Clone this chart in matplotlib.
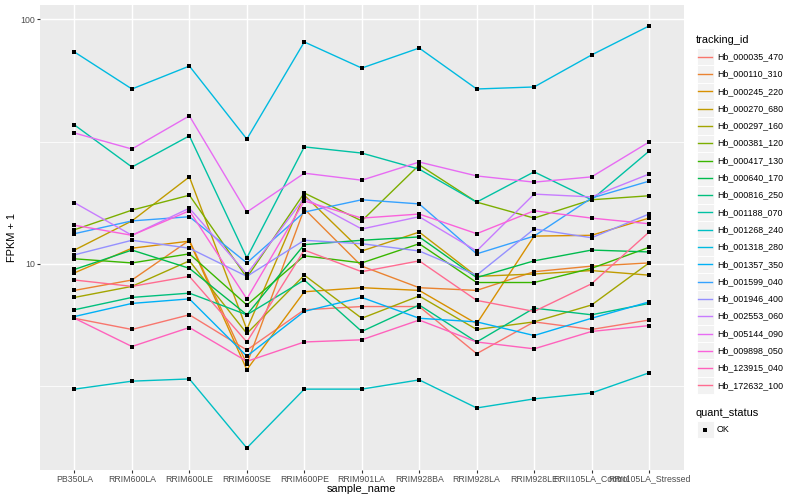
import matplotlib
matplotlib.use('Agg')
import matplotlib.pyplot as plt
from matplotlib.lines import Line2D
from matplotlib.patches import Rectangle
from matplotlib.ticker import FixedLocator, NullFormatter
import numpy as np

plt.rcParams['font.family'] = ['Liberation Sans', 'DejaVu Sans']

samples = ['PB350LA', 'RRIM600LA', 'RRIM600LE', 'RRIM600SE', 'RRIM600PE',
           'RRIM901LA', 'RRIM928BA', 'RRIM928LA', 'RRIM928LE',
           'RRII105LA_Control', 'RRII105LA_Stressed']

tracking_ids = ['Hb_000035_470', 'Hb_000110_310', 'Hb_000245_220', 'Hb_000270_680',
                'Hb_000297_160', 'Hb_000381_120', 'Hb_000417_130', 'Hb_000640_170',
                'Hb_000816_250', 'Hb_001188_070', 'Hb_001268_240', 'Hb_001318_280',
                'Hb_001357_350', 'Hb_001599_040', 'Hb_001946_400', 'Hb_002553_060',
                'Hb_005144_090', 'Hb_009898_050', 'Hb_123915_040', 'Hb_172632_100']

colors = ['#F8766D', '#EA8331', '#D89000', '#C09B00', '#A3A500', '#7CAE00',
          '#39B600', '#00BB4E', '#00BF7D', '#00C1A3', '#00BFC4', '#00BAE0',
          '#00B0F6', '#35A2FF', '#9590FF', '#C77CFF', '#E76BF3', '#FA62DB',
          '#FF62BC', '#FF6C91']

hb_000035_470 = [6.0, 5.4, 6.2, 4.45, 6.5, 6.7, 6.7, 4.3, 5.8, 5.4, 5.9]
hb_000110_310 = [7.8, 8.6, 12.5, 3.9, 16.8, 9.8, 8.0, 7.8, 9.3, 9.8, 10.1]
hb_000245_220 = [9.2, 11.6, 12.4, 3.7, 7.7, 8.0, 7.8, 5.7, 13.0, 13.1, 15.4]
hb_000270_680 = [11.4, 15.0, 22.7, 5.4, 19.1, 11.3, 13.5, 8.9, 9.1, 9.4, 9.0]
hb_000297_160 = [7.3, 8.1, 10.3, 5.2, 9.0, 6.0, 7.4, 5.4, 5.8, 6.8, 10.1]
hb_000381_120 = [13.8, 16.6, 19.1, 8.8, 19.5, 15.0, 25.4, 17.9, 15.4, 18.3, 19.0]
hb_000417_130 = [10.5, 10.1, 11.0, 6.8, 10.8, 10.1, 12.1, 8.4, 8.4, 9.6, 11.7]
hb_000640_170 = [9.5, 11.4, 9.6, 6.2, 12.0, 12.5, 12.9, 8.8, 10.3, 11.4, 11.2]
hb_000816_250 = [6.5, 7.3, 7.6, 6.2, 8.6, 5.3, 6.8, 4.8, 6.6, 6.2, 6.9]
hb_001188_070 = [37.0, 24.9, 33.4, 10.6, 30.1, 28.4, 24.4, 17.9, 23.8, 18.3, 28.9]
hb_001268_240 = [3.08, 3.32, 3.39, 1.77, 3.08, 3.08, 3.36, 2.58, 2.81, 2.97, 3.59]
hb_001318_280 = [73.5, 51.9, 64.4, 32.4, 80.8, 63.2, 76.3, 51.9, 52.9, 71.5, 93.9]
hb_001357_350 = [6.1, 6.9, 7.2, 4.2, 6.4, 7.3, 6.0, 5.8, 5.1, 6.0, 7.0]
hb_001599_040 = [13.3, 15.0, 15.6, 10.1, 16.3, 18.3, 17.6, 11.0, 13.0, 18.6, 21.8]
hb_001946_400 = [10.9, 12.5, 11.6, 8.9, 12.5, 12.1, 11.3, 9.0, 13.9, 12.8, 16.0]
hb_002553_060 = [17.8, 13.1, 16.9, 9.1, 18.6, 13.9, 15.6, 11.3, 19.3, 18.8, 23.3]
hb_005144_090 = [34.3, 29.5, 40.3, 16.3, 23.5, 22.0, 26.1, 22.9, 21.6, 22.7, 31.5]
hb_009898_050 = [14.4, 13.1, 16.5, 7.2, 18.1, 15.4, 16.0, 13.3, 16.5, 15.4, 14.6]
hb_123915_040 = [6.0, 4.6, 5.5, 4.0, 4.8, 4.9, 5.9, 4.8, 4.5, 5.3, 5.6]
hb_172632_100 = [8.6, 8.1, 8.9, 4.8, 11.4, 9.3, 10.3, 7.1, 6.4, 8.3, 13.5]

series = [hb_000035_470, hb_000110_310, hb_000245_220, hb_000270_680, hb_000297_160,
          hb_000381_120, hb_000417_130, hb_000640_170, hb_000816_250, hb_001188_070,
          hb_001268_240, hb_001318_280, hb_001357_350, hb_001599_040, hb_001946_400,
          hb_002553_060, hb_005144_090, hb_009898_050, hb_123915_040, hb_172632_100]

y_ticks = [10, 100]
y_tick_labels = ['10', '100']

W, H = 800, 500
fig = plt.figure(figsize=(W / 100, H / 100), dpi=100)
fig.patch.set_facecolor('white')

L, R, T, B = 40, 683.5, 5, 470
ax = fig.add_axes([L / W, 1 - B / H, (R - L) / W, (B - T) / H])
ax.set_facecolor('#EBEBEB')
ax.set_yscale('log')
ax.set_ylim(1.439, 114.4)
ax.set_xlim(-0.6, len(samples) - 1 + 0.6)
for s in ax.spines.values():
    s.set_visible(False)

ax.yaxis.set_major_locator(FixedLocator(y_ticks))
ax.set_yticklabels(y_tick_labels)
ax.yaxis.set_minor_locator(FixedLocator([10 ** 0.5, 10 ** 1.5]))
ax.yaxis.set_minor_formatter(NullFormatter())
ax.tick_params(which='minor', length=0)

x = np.arange(len(samples))
ax.set_xticks(x)
ax.set_xticklabels(samples)
ax.tick_params(which='major', length=2.0, width=0.8, color='#333333',
               labelsize=6.3, labelcolor='#4D4D4D', pad=1.3)

ax.grid(True, which='major', color='white', lw=1.05)
ax.grid(True, which='minor', color='white', lw=0.55)
ax.set_axisbelow(True)

for i, (vals, c) in enumerate(zip(series, colors)):
    ax.plot(x, vals, color=c, lw=1.0, zorder=2 + i * 0.01, solid_capstyle='butt')
for vals in series:
    ax.plot(x, vals, ls='none', marker='s', ms=2.8, mew=0, color='black', zorder=5)

def P(px, py):
    return (px / W, 1 - py / H)

fig.text(*P(12, (T + B) / 2), 'FPKM + 1', rotation=90, ha='center', va='center',
         fontsize=7.9, color='black')
fig.text(*P((L + R) / 2, 489), 'sample_name', ha='center', va='center',
         fontsize=7.9, color='black')

# legend: tracking_id
fig.text(*P(696, 40), 'tracking_id', ha='left', va='center', fontsize=7.9)
key_x0, key_w, key_h = 696.5, 17.0, 17.3
y0 = 56.7
for i, (lab, c) in enumerate(zip(tracking_ids, colors)):
    yc = y0 + i * key_h
    rx, ry = P(key_x0, yc + key_h / 2)
    fig.patches.append(Rectangle((rx, ry), key_w / W, key_h / H, transform=fig.transFigure,
                                 facecolor='#F2F2F2', edgecolor='white', lw=0.7))
    lx0, ly = P(key_x0 + 1.7, yc)
    lx1, _ = P(key_x0 + key_w - 1.7, yc)
    fig.lines.append(Line2D([lx0, lx1], [ly, ly], transform=fig.transFigure,
                            color=c, lw=1.0))
    fig.text(*P(717, yc), lab, ha='left', va='center', fontsize=6.4)

# legend: quant_status
fig.text(*P(696, 412.5), 'quant_status', ha='left', va='center', fontsize=7.9)
yc = 429.5
rx, ry = P(key_x0, yc + key_h / 2)
fig.patches.append(Rectangle((rx, ry), key_w / W, key_h / H, transform=fig.transFigure,
                             facecolor='#F2F2F2', edgecolor='white', lw=0.7))
mx, my = P(key_x0 + key_w / 2, yc)
fig.lines.append(Line2D([mx], [my], transform=fig.transFigure, ls='none', marker='s',
                        ms=2.8, mew=0, color='black'))
fig.text(*P(717, yc), 'OK', ha='left', va='center', fontsize=6.4)

fig.savefig('out.png', dpi=100, facecolor='white')
